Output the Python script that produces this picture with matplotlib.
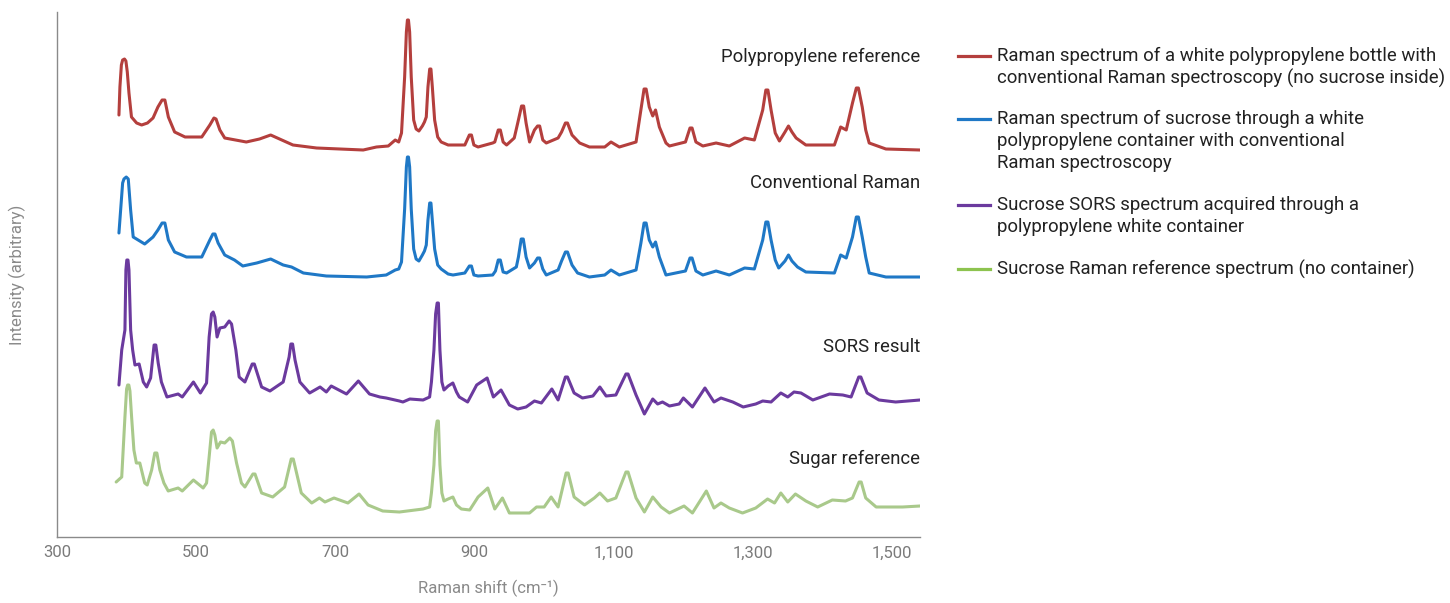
import numpy as np
import matplotlib
matplotlib.use("Agg")
import matplotlib.pyplot as plt
from matplotlib.lines import Line2D

plt.rcParams['font.family'] = ['Roboto', 'DejaVu Sans']

# Spectra: (Raman shift cm-1, intensity above own baseline, arbitrary units)
red = [(389, 35), (390.4, 63), (392.5, 85), (394.3, 90), (397, 91), (399, 89), (401, 78), (403.4, 57),
       (407, 33), (414.4, 27), (421.6, 25), (430, 27), (438, 32), (445, 43), (451, 50), (455, 50),
       (460, 33), (469, 18), (484, 13), (508, 13), (519.6, 25), (525.5, 32), (528.5, 31), (534, 20),
       (541, 12), (572, 8), (591, 11), (607, 15), (623, 10), (639, 5), (673, 2), (740, 0),
       (759, 3), (776, 4), (786, 10), (791, 8), (795, 17), (799.5, 73), (802, 118), (803.5, 130),
       (805, 130), (806.7, 118), (809, 73), (812.5, 30), (816, 21), (820, 19), (825, 24), (828, 28),
       (830.6, 33), (833, 63), (835.5, 81), (837.3, 81), (839.3, 63), (842.6, 30), (847, 13),
       (852, 8), (862, 5), (886, 5), (892.5, 15), (895.5, 15), (899, 5), (905, 3), (926, 7),
       (929, 8), (934, 20), (937, 20), (941, 8), (946, 5), (957, 12), (962, 27), (967.5, 44),
       (970.5, 44), (974, 27), (979, 8), (986, 20), (990.5, 24), (993.5, 24), (998, 10), (1003, 7),
       (1020, 12), (1025, 18), (1030.5, 27), (1033.5, 27), (1040, 15), (1051, 7), (1065, 3),
       (1087, 3), (1096, 8), (1108, 3), (1132, 8), (1139, 40), (1143.5, 61), (1146.5, 61),
       (1151, 43), (1156, 34), (1160, 40), (1165.5, 23), (1175, 7), (1180, 4), (1203, 8),
       (1209.5, 22), (1212.5, 22), (1218, 8), (1228, 4), (1247, 7), (1266, 4), (1288, 12),
       (1302, 10), (1314, 40), (1318.5, 60), (1321.5, 60), (1326, 40), (1332, 17), (1338, 9),
       (1346, 18), (1351, 24), (1356, 18), (1362, 12), (1376, 5), (1417, 5), (1426, 23),
       (1434, 20), (1443, 47), (1448.5, 62), (1451.5, 62), (1457, 43), (1462, 20), (1467, 7),
       (1491, 1), (1540, 0)]

blue = [(389, 44), (391.4, 67), (394.3, 94), (396.2, 98), (399.5, 100), (402.4, 98), (405.8, 67),
        (409.5, 40), (416.7, 37), (426, 33), (438, 40), (445, 47), (451, 54), (455, 54), (460, 37),
        (469, 25), (486, 20), (508, 20), (519.6, 37), (524, 43), (527, 43), (531.5, 34), (541, 22),
        (555, 17), (567, 11), (587, 14), (607, 18), (625, 12), (637, 10), (654, 4), (687, 1),
        (745, 0), (773, 2), (786, 7), (791, 8), (795, 15), (799.5, 68), (802, 110), (803.5, 120),
        (805, 120), (806.7, 110), (809, 68), (812.5, 28), (816, 18), (820, 16), (825, 22), (828, 26),
        (830.6, 32), (833, 57), (835.5, 74), (837.3, 74), (839.3, 57), (842.6, 28), (847, 12),
        (852, 8), (862, 3), (869, 2), (886, 4), (892.5, 11), (895.5, 11), (899, 2), (905, 1),
        (926, 2), (930, 6), (934, 17), (937, 17), (941, 5), (946, 4), (960, 10), (963, 20),
        (967, 38), (970, 38), (974, 20), (979, 9), (986, 14), (990.5, 19), (993.5, 19), (998, 8),
        (1003, 2), (1020, 7), (1025, 16), (1030.5, 25), (1033.5, 25), (1040, 12), (1048, 4),
        (1065, 0), (1087, 2), (1096, 7), (1108, 2), (1132, 7), (1139, 34), (1143.5, 54),
        (1146.5, 54), (1151, 37), (1156, 30), (1160, 35), (1165.5, 20), (1175, 2), (1203, 6),
        (1209.5, 19), (1212.5, 19), (1218, 6), (1228, 2), (1247, 6), (1266, 2), (1288, 9),
        (1302, 8), (1314, 37), (1318.5, 55), (1321.5, 55), (1326, 37), (1332, 17), (1337, 9),
        (1346, 16), (1351, 22), (1356, 16), (1364, 10), (1376, 5), (1417, 4), (1426, 22),
        (1434, 19), (1443, 40), (1448.5, 60), (1451.5, 60), (1457, 40), (1462, 20), (1467, 4),
        (1491, 0), (1540, 0)]

purple = [(389, 17), (393, 52), (397.6, 72), (399, 132), (400.3, 142), (402, 142), (403.4, 132),
          (405.8, 72), (408.7, 52), (412, 37), (418, 38), (424, 20), (428.8, 15), (434.5, 24),
          (439.5, 57), (442, 57), (445.4, 39), (450, 20), (458, 5), (474, 8), (480, 5), (496, 20),
          (506, 9), (514.9, 19), (518.6, 65), (522, 88), (524.4, 90), (526.8, 85), (530, 65),
          (534, 74), (541, 75), (547.3, 81), (550.8, 78), (557, 52), (561.7, 25), (570, 20),
          (580.5, 38), (583.5, 38), (594, 15), (606, 11), (625, 20), (633.5, 45), (636, 58),
          (638.5, 58), (642, 42), (649, 20), (663, 9), (678, 15), (687, 10), (694, 16), (716, 8),
          (733, 21), (749, 8), (764, 5), (773, 4), (792, 1), (797, 0), (807, 3), (826, 2),
          (835.4, 5), (838, 20), (841.6, 52), (844, 88), (846.2, 99), (848, 99), (850.2, 52),
          (853, 20), (856, 12), (862, 16), (868.8, 19), (874, 10), (878, 5), (890, 0), (903, 17),
          (918, 24), (927, 5), (938, 12), (950, -3), (962, -7), (974, -5), (986, 1), (996, -1),
          (1011, 13), (1020, 2), (1030.5, 25), (1033.5, 25), (1043, 9), (1055, 4), (1070, 6),
          (1080, 15), (1089, 6), (1103, 7), (1117.5, 28), (1120.5, 28), (1132, 7), (1144, -12),
          (1156, 3), (1163, -2), (1170, 0), (1180, -4), (1194, -2), (1200, 4), (1213, -5),
          (1231, 14), (1244, 0), (1254, 4), (1271, 0), (1286, -5), (1304, -2), (1314, 1),
          (1326, 0), (1340, 9), (1350, 5), (1359, 10), (1369, 9), (1386, 2), (1410, 8), (1429, 7),
          (1441, 5), (1452, 25), (1455, 25), (1464, 9), (1481, 2), (1505, 0), (1540, 2)]

green = [(385, 31), (393, 36), (397.6, 96), (400, 124), (401.5, 128), (403.2, 128), (404.8, 122),
         (407.2, 96), (410.5, 63), (414, 50), (419, 50), (426, 30), (429.6, 28), (436, 43),
         (440.5, 60), (443.5, 60), (447.8, 43), (453.6, 30), (459.8, 22), (474, 25), (480, 22),
         (496, 33), (510, 25), (514.9, 30), (518.6, 56), (522, 81), (524.4, 83), (526.8, 78),
         (530, 65), (535, 71), (541, 70), (548.3, 75), (552, 72), (558, 50), (565, 30), (570, 26),
         (581.5, 39), (584.5, 39), (594, 20), (610, 16), (627, 26), (636.5, 54), (639.5, 54),
         (651, 20), (666, 10), (677, 15), (685, 11), (698, 15), (718, 10), (734, 19), (747, 8),
         (768, 2), (792, 1), (826, 4), (835.4, 6), (838, 20), (841.6, 48), (844, 82), (846.2, 92),
         (848, 92), (850.2, 48), (853, 20), (856, 12), (862, 14), (868.8, 16), (874, 8), (881, 4),
         (893, 3), (905, 16), (919, 25), (929, 4), (940, 15), (950, 0), (979, 0), (989, 6),
         (1000, 6), (1010, 16), (1020, 6), (1031.5, 40), (1034.5, 40), (1043, 16), (1058, 8),
         (1072, 15), (1080, 20), (1091, 12), (1103, 15), (1117.5, 41), (1120.5, 41), (1132, 15),
         (1144, 1), (1156, 16), (1168, 6), (1180, 0), (1201, 7), (1213, 0), (1233, 22), (1244, 5),
         (1254, 10), (1266, 5), (1285, 0), (1304, 5), (1321, 14), (1331, 10), (1340, 20),
         (1350, 11), (1361, 19), (1376, 12), (1393, 6), (1414, 13), (1433, 12), (1443, 15),
         (1452.5, 31), (1455.5, 31), (1462, 15), (1477, 6), (1515, 6), (1540, 7)]

curve_names = ['Polypropylene reference', 'Conventional Raman', 'SORS result', 'Sugar reference']
legend_labels = [
    'Raman spectrum of a white polypropylene bottle with\nconventional Raman spectroscopy (no sucrose inside)',
    'Raman spectrum of sucrose through a white\npolypropylene container with conventional\nRaman spectroscopy',
    'Sucrose SORS spectrum acquired through a\npolypropylene white container',
    'Sucrose Raman reference spectrum (no container)',
]
xticks = [300, 500, 700, 900, 1100, 1300, 1500]
xtick_labels = ['300', '500', '700', '900', '1,100', '1,300', '1,500']

spectra = [red, blue, purple, green]
offsets = [390, 263, 138, 27]
label_y = [483, 357, 193, 81]
colors = ['#B43F3D', '#1F78C6', '#6B3A9E', '#A9C98B']
legend_colors = ['#B43F3D', '#1F78C6', '#6B3A9E', '#8DC34F']

fig = plt.figure(figsize=(14.5, 6.03), dpi=100)
ax = fig.add_axes([57 / 1450, 1 - 537 / 603, (920 - 57) / 1450, (537 - 12) / 603])

for spec, off, col, name, ly in zip(spectra, offsets, colors, curve_names, label_y):
    arr = np.array(spec, dtype=float)
    ax.plot(arr[:, 0], arr[:, 1] + off, color=col, lw=2.2,
            solid_joinstyle='round', solid_capstyle='round')
    ax.text(1540, ly, name, ha='right', va='center', fontsize=13.3, color='#222222')

ax.set_xlim(300, 1540)
ax.set_ylim(3, 528)
ax.set_xticks(xticks)
ax.set_xticklabels(xtick_labels)
ax.set_yticks([])
ax.tick_params(axis='x', length=0, pad=6, labelsize=12, labelcolor='#7a7a7a')
for s in ['top', 'right']:
    ax.spines[s].set_visible(False)
for s in ['left', 'bottom']:
    ax.spines[s].set_color('#8a8a8a')
    ax.spines[s].set_linewidth(1.0)

ax.set_xlabel('Raman shift (cm\u207b\u00b9)', fontsize=12, color='#8a8a8a', labelpad=14)
ax.set_ylabel('Intensity (arbitrary)', fontsize=12, color='#8a8a8a', labelpad=22)

# manual legend
W, H = 1450, 603
first_line = [56, 119, 205, 269]
for lab, col, y0 in zip(legend_labels, legend_colors, first_line):
    fig.add_artist(Line2D([958 / W, 990 / W], [1 - y0 / H, 1 - y0 / H], color=col, lw=2.3))
    for k, line in enumerate(lab.split('\n')):
        fig.text(997 / W, 1 - (y0 + 22 * k) / H, line, ha='left', va='center',
                 fontsize=13.4, color='#222222')

fig.savefig('out.png', dpi=100)
